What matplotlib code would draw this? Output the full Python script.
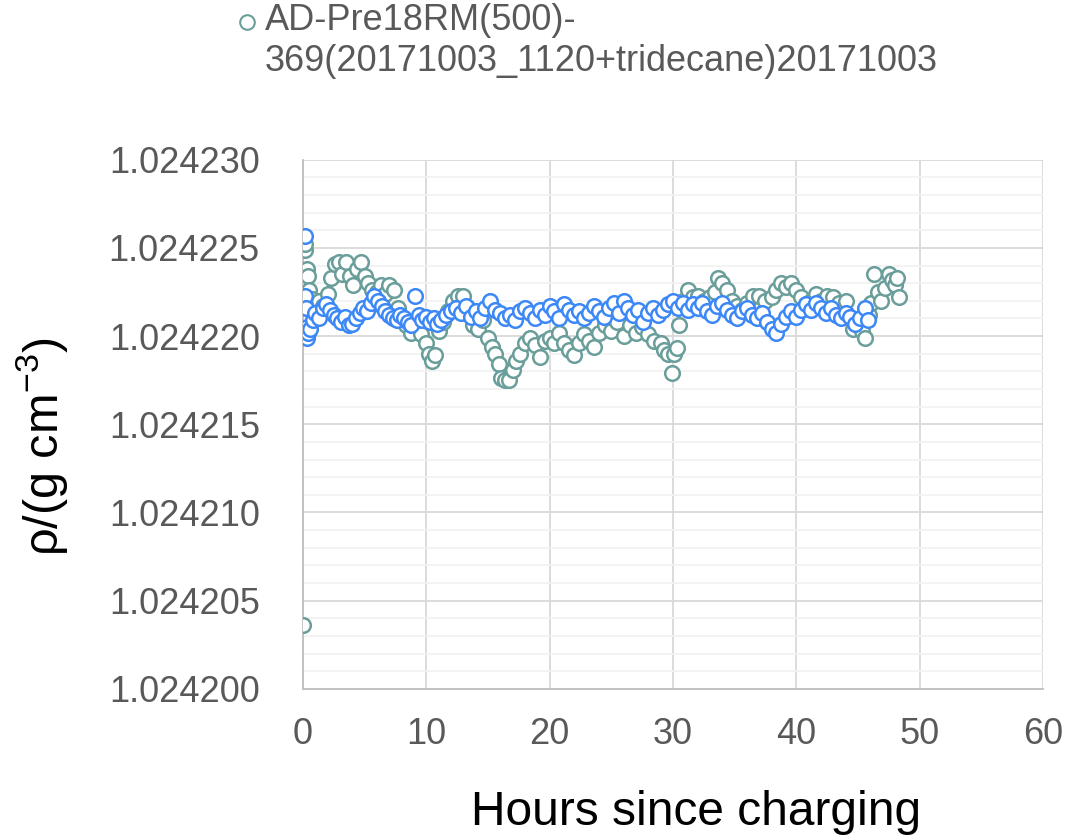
import matplotlib
matplotlib.use("Agg")
import numpy as np
from matplotlib import pyplot as plt
from matplotlib.ticker import MultipleLocator, FuncFormatter

# green series: hours / density
green_hours = [0.0, 0.1, 0.15, 0.2, 0.3, 0.4, 0.5, 0.7, 1.0, 1.3, 1.6, 2.0, 2.3, 2.6, 2.9, 3.2, 3.5, 3.8,
               4.1, 4.4, 4.7, 5.0, 5.3, 5.6, 6.0, 6.3, 6.7, 7.0, 7.4, 7.7, 8.0, 8.4, 8.8, 9.2, 9.6, 10.0,
               10.2, 10.5, 10.7, 11.0, 11.4, 11.8, 12.2, 12.6, 13.0, 13.4, 13.8, 14.2, 14.6, 15.0, 15.3,
               15.6, 15.9, 16.1, 16.4, 16.7, 17.0, 17.3, 17.6, 18.0, 18.4, 18.8, 19.2, 19.6, 20.0, 20.4,
               20.8, 21.2, 21.6, 22.0, 22.4, 22.8, 23.2, 23.6, 24.0, 24.5, 25.0, 25.5, 26.0, 26.5, 27.0,
               27.5, 28.0, 28.5, 29.0, 29.3, 29.6, 29.9, 30.1, 30.3, 30.5, 30.8, 31.2, 31.6, 32.0, 32.5,
               33.0, 33.4, 33.7, 34.0, 34.4, 34.8, 35.2, 35.6, 36.0, 36.5, 37.0, 37.5, 38.0, 38.4, 38.8,
               39.2, 39.6, 40.0, 40.4, 40.8, 41.2, 41.6, 42.0, 42.5, 43.0, 43.5, 44.0, 44.3, 44.6, 45.0,
               45.3, 45.6, 45.9, 46.1, 46.3, 46.6, 46.9, 47.2, 47.5, 47.8, 48.0, 48.2, 48.3]
green_rho = [1.0242036, 1.0242228, 1.0242249, 1.0242252, 1.0242238, 1.0242234, 1.0242226, 1.0242221,
             1.0242213, 1.0242220, 1.0242217, 1.0242224, 1.0242233, 1.0242241, 1.0242242, 1.0242235,
             1.0242242, 1.0242234, 1.0242229, 1.0242238, 1.0242242, 1.0242234, 1.0242230, 1.0242226,
             1.0242225, 1.0242229, 1.0242224, 1.0242229, 1.0242226, 1.0242216, 1.0242210, 1.0242206,
             1.0242202, 1.0242206, 1.0242201, 1.0242196, 1.0242190, 1.0242186, 1.0242189, 1.0242203,
             1.0242208, 1.0242214, 1.0242220, 1.0242223, 1.0242223, 1.0242216, 1.0242206, 1.0242204,
             1.0242209, 1.0242199, 1.0242194, 1.0242190, 1.0242184, 1.0242176, 1.0242175, 1.0242175,
             1.0242181, 1.0242186, 1.0242190, 1.0242196, 1.0242199, 1.0242195, 1.0242188, 1.0242197,
             1.0242199, 1.0242196, 1.0242202, 1.0242196, 1.0242192, 1.0242189, 1.0242196, 1.0242201,
             1.0242197, 1.0242194, 1.0242202, 1.0242206, 1.0242203, 1.0242208, 1.0242200, 1.0242206,
             1.0242202, 1.0242205, 1.0242201, 1.0242197, 1.0242196, 1.0242192, 1.0242190, 1.0242179,
             1.0242190, 1.0242193, 1.0242206, 1.0242220, 1.0242226, 1.0242222, 1.0242223, 1.0242220,
             1.0242222, 1.0242225, 1.0242233, 1.0242230, 1.0242226, 1.0242220, 1.0242217, 1.0242215,
             1.0242219, 1.0242223, 1.0242223, 1.0242220, 1.0242222, 1.0242226, 1.0242230, 1.0242228,
             1.0242230, 1.0242226, 1.0242222, 1.0242218, 1.0242220, 1.0242224, 1.0242220, 1.0242223,
             1.0242222, 1.0242219, 1.0242220, 1.0242210, 1.0242204, 1.0242206, 1.0242203, 1.0242199,
             1.0242212, 1.0242219, 1.0242235, 1.0242225, 1.0242220, 1.0242227, 1.0242235, 1.0242232,
             1.0242229, 1.0242233, 1.0242222]

# blue series: hours / density
blue_hours = [0.15, 0.2, 0.25, 0.3, 0.35, 0.45, 0.6, 0.8, 1.0, 1.3, 1.6, 1.9, 2.2, 2.5, 2.8, 3.1, 3.4,
              3.7, 4.0, 4.3, 4.6, 4.9, 5.2, 5.5, 5.8, 6.1, 6.4, 6.7, 7.0, 7.3, 7.6, 7.9, 8.2, 8.5, 8.8,
              9.1, 9.4, 9.7, 10.0, 10.3, 10.6, 10.9, 11.2, 11.6, 12.0, 12.4, 12.8, 13.2, 13.6, 14.0,
              14.4, 14.8, 15.2, 15.6, 16.0, 16.4, 16.8, 17.2, 17.6, 18.0, 18.4, 18.8, 19.2, 19.6, 20.0,
              20.4, 20.8, 21.2, 21.6, 22.0, 22.4, 22.8, 23.2, 23.6, 24.0, 24.4, 24.8, 25.2, 25.6, 26.0,
              26.4, 26.8, 27.2, 27.6, 28.0, 28.4, 28.8, 29.2, 29.6, 30.0, 30.4, 30.8, 31.2, 31.6, 32.0,
              32.4, 32.8, 33.2, 33.6, 34.0, 34.4, 34.8, 35.2, 35.6, 36.0, 36.4, 36.8, 37.2, 37.6, 38.0,
              38.4, 38.8, 39.2, 39.6, 40.0, 40.4, 40.8, 41.2, 41.6, 42.0, 42.4, 42.8, 43.2, 43.6, 44.0,
              44.4, 44.8, 45.2, 45.6, 45.8]
blue_rho = [1.0242257, 1.0242223, 1.0242216, 1.0242205, 1.0242199, 1.0242202, 1.0242204, 1.0242209,
            1.0242213, 1.0242210, 1.0242216, 1.0242218, 1.0242215, 1.0242212, 1.0242210, 1.0242208,
            1.0242211, 1.0242206, 1.0242207, 1.0242210, 1.0242213, 1.0242216, 1.0242214, 1.0242219,
            1.0242223, 1.0242220, 1.0242217, 1.0242214, 1.0242212, 1.0242210, 1.0242209, 1.0242212,
            1.0242210, 1.0242208, 1.0242206, 1.0242223, 1.0242212, 1.0242209, 1.0242211, 1.0242208,
            1.0242210, 1.0242207, 1.0242209, 1.0242212, 1.0242214, 1.0242216, 1.0242213, 1.0242217,
            1.0242211, 1.0242214, 1.0242210, 1.0242216, 1.0242220, 1.0242215, 1.0242213, 1.0242210,
            1.0242212, 1.0242209, 1.0242214, 1.0242216, 1.0242213, 1.0242210, 1.0242215, 1.0242212,
            1.0242217, 1.0242214, 1.0242210, 1.0242218, 1.0242215, 1.0242212, 1.0242214, 1.0242210,
            1.0242213, 1.0242217, 1.0242214, 1.0242211, 1.0242216, 1.0242219, 1.0242213, 1.0242220,
            1.0242216, 1.0242212, 1.0242215, 1.0242208, 1.0242213, 1.0242216, 1.0242212, 1.0242215,
            1.0242218, 1.0242220, 1.0242216, 1.0242219, 1.0242215, 1.0242218, 1.0242216, 1.0242219,
            1.0242214, 1.0242212, 1.0242217, 1.0242219, 1.0242215, 1.0242212, 1.0242210, 1.0242214,
            1.0242216, 1.0242212, 1.0242210, 1.0242213, 1.0242208, 1.0242204, 1.0242202, 1.0242207,
            1.0242211, 1.0242214, 1.0242211, 1.0242215, 1.0242218, 1.0242215, 1.0242219, 1.0242216,
            1.0242213, 1.0242216, 1.0242212, 1.0242210, 1.0242213, 1.0242211, 1.0242207, 1.0242210,
            1.0242216, 1.0242209]

legend_label = "AD-Pre18RM(500)-\n369(20171003_1120+tridecane)20171003"

plt.rcParams["font.family"] = ["Liberation Sans", "DejaVu Sans"]
plt.rcParams["mathtext.fontset"] = "custom"
plt.rcParams["mathtext.rm"] = "Liberation Sans"
plt.rcParams["mathtext.it"] = "Liberation Sans:italic"

fig = plt.figure(figsize=(10.74, 8.36), dpi=100)
ax = fig.add_axes([0.282, 0.176, 0.689, 0.633])

green = ax.plot(green_hours, green_rho, "o", ms=10.5, mfc="white", mec="#6A9E9A", mew=1.8,
                label=legend_label, zorder=3)
ax.plot(blue_hours, blue_rho, "o", ms=10.5, mfc="white", mec="#3D88F7", mew=1.8, zorder=4)

ax.set_xlim(0, 60)
ax.set_ylim(1.024200, 1.024230)
ax.xaxis.set_major_locator(MultipleLocator(10))
ax.yaxis.set_major_locator(MultipleLocator(0.000005))
ax.yaxis.set_minor_locator(MultipleLocator(0.000001))
ax.yaxis.set_major_formatter(FuncFormatter(lambda v, p: f"{v:.6f}"))

ax.grid(which="major", color="#D9D9D9", lw=1.3, zorder=0)
ax.grid(which="minor", axis="y", color="#F2F2F2", lw=1.3, zorder=0)
ax.set_axisbelow(True)
for s in ["top", "right"]:
    ax.spines[s].set_visible(False)
for s in ["left", "bottom"]:
    ax.spines[s].set_color("#BFBFBF")
    ax.spines[s].set_linewidth(1.3)
ax.tick_params(which="both", length=0, labelsize=26, labelcolor="#595959")
ax.tick_params(axis="y", pad=31)
ax.tick_params(axis="x", pad=20)

ax.set_xlabel("Hours since charging", fontsize=34.5)
ax.set_ylabel(r"ρ/(g cm$^{-3}$)", fontsize=35)
ax.xaxis.set_label_coords(0.532, -0.191)
ax.yaxis.set_label_coords(-0.315, 0.457)

leg = fig.legend(handles=green, labels=[legend_label], loc="upper left",
                 bbox_to_anchor=(0.2197, 0.996), frameon=False, fontsize=26,
                 labelcolor="#595959", markerscale=1.0, handletextpad=0.2,
                 handlelength=0.6, borderaxespad=0, borderpad=0)
# put the marker next to the first line of the label
mk = leg.legend_handles[0]
mk.set_ydata(np.asarray(mk.get_ydata()) + 14)
mk.set_markeredgewidth(1.5)

fig.savefig("out.png", dpi=100)
